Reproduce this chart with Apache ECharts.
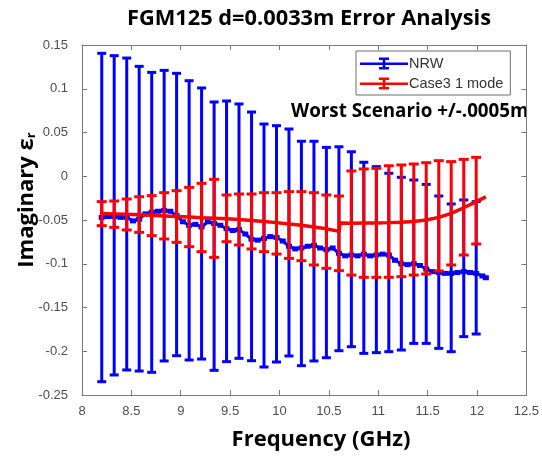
<!DOCTYPE html>
<html>
<head>
<meta charset="utf-8">
<script src="https://cdn.jsdelivr.net/npm/echarts@6/dist/echarts.min.js"></script>
<style>html,body{margin:0;padding:0;background:#fff}#c{width:542px;height:458px}</style>
</head>
<body>
<div id="c"></div>
<script>
// Error-bar positions (GHz)
const barFreq = [8.200,8.326,8.453,8.579,8.706,8.832,8.958,9.085,9.211,9.338,9.464,9.590,9.717,9.843,9.970,10.096,10.222,10.349,10.475,10.602,10.728,10.854,10.981,11.107,11.234,11.360,11.486,11.613,11.739,11.866,11.992];
// NRW error bar limits
const nrwHigh = [0.1405,0.1378,0.1351,0.1256,0.1187,0.121,0.1176,0.1092,0.1009,0.0849,0.086,0.0826,0.0734,0.0597,0.0578,0.054,0.040,0.040,0.033,0.0337,0.028,0.016,0.011,0.0034,-0.0012,-0.0043,-0.0093,-0.0226,-0.0317,-0.0271,-0.029];
const nrwLow = [-0.2348,-0.2271,-0.2214,-0.2226,-0.2241,-0.2111,-0.2051,-0.21,-0.2089,-0.2218,-0.2119,-0.2081,-0.2108,-0.218,-0.2123,-0.2054,-0.2165,-0.2111,-0.2074,-0.1994,-0.1948,-0.2024,-0.2016,-0.2005,-0.1986,-0.191,-0.191,-0.1967,-0.2005,-0.1833,-0.1803];
// NRW measured values
const nrwFreq = [8.200,8.263,8.326,8.390,8.453,8.516,8.579,8.642,8.706,8.769,8.832,8.895,8.958,9.022,9.085,9.148,9.211,9.274,9.338,9.401,9.464,9.527,9.590,9.654,9.717,9.780,9.843,9.906,9.970,10.033,10.096,10.159,10.222,10.286,10.349,10.412,10.475,10.538,10.602,10.665,10.728,10.791,10.854,10.918,10.981,11.044,11.107,11.170,11.234,11.297,11.360,11.423,11.486,11.550,11.613,11.676,11.739,11.802,11.866,11.929,11.992,12.055,12.090];
const nrwVal = [-0.047,-0.046,-0.046,-0.047,-0.047,-0.051,-0.049,-0.043,-0.041,-0.040,-0.039,-0.040,-0.045,-0.052,-0.056,-0.055,-0.058,-0.052,-0.054,-0.056,-0.060,-0.062,-0.061,-0.066,-0.072,-0.073,-0.071,-0.069,-0.070,-0.074,-0.080,-0.083,-0.082,-0.080,-0.079,-0.082,-0.084,-0.082,-0.088,-0.091,-0.090,-0.091,-0.089,-0.091,-0.090,-0.089,-0.090,-0.096,-0.100,-0.101,-0.100,-0.102,-0.106,-0.109,-0.110,-0.111,-0.111,-0.110,-0.109,-0.110,-0.111,-0.114,-0.116];
// Case3 1 mode line
const caseLineFreq = [8.200,8.326,8.453,8.579,8.706,8.832,8.958,9.085,9.211,9.338,9.464,9.590,9.717,9.843,9.970,10.096,10.222,10.349,10.475,10.602,10.615,10.728,10.854,10.981,11.107,11.234,11.360,11.486,11.613,11.739,11.866,11.992,12.090];
const caseLineVal = [-0.0425,-0.043,-0.0435,-0.044,-0.0447,-0.0453,-0.046,-0.0467,-0.0474,-0.048,-0.0487,-0.0495,-0.0505,-0.0518,-0.053,-0.0545,-0.056,-0.058,-0.060,-0.063,-0.0535,-0.0537,-0.0535,-0.0533,-0.053,-0.0525,-0.0518,-0.050,-0.047,-0.0425,-0.036,-0.029,-0.0235];
// Case3 error bar limits
const caseHigh = [-0.029,-0.0283,-0.026,-0.0234,-0.0222,-0.0188,-0.0165,-0.0127,-0.0081,-0.0035,-0.0214,-0.0203,-0.0203,-0.0188,-0.0188,-0.0176,-0.0176,-0.0188,-0.0214,-0.0226,0.006,0.0083,0.009,0.012,0.0129,0.014,0.0155,0.0178,0.0167,0.0193,0.0216];
const caseLow = [-0.0565,-0.0584,-0.0614,-0.0641,-0.0679,-0.0717,-0.0755,-0.0805,-0.0862,-0.0927,-0.0748,-0.0786,-0.0831,-0.0862,-0.0889,-0.0939,-0.0965,-0.1014,-0.1052,-0.1079,-0.1129,-0.1155,-0.1155,-0.1155,-0.1148,-0.1129,-0.1117,-0.1083,-0.1014,-0.09,-0.0774];

const BLUE = '#0000ff', RED = '#ff0000';
function errRender(color, capHalf, lw) {
  return function (params, api) {
    const x = api.value(0), lo = api.value(1), hi = api.value(2);
    const p1 = api.coord([x, hi]), p2 = api.coord([x, lo]);
    const st = {stroke: color, lineWidth: lw};
    return {type: 'group', children: [
      {type: 'line', shape: {x1: p1[0], y1: p1[1], x2: p2[0], y2: p2[1]}, style: st},
      {type: 'line', shape: {x1: p1[0] - capHalf, y1: p1[1], x2: p1[0] + capHalf, y2: p1[1]}, style: st},
      {type: 'line', shape: {x1: p2[0] - capHalf, y1: p2[1], x2: p2[0] + capHalf, y2: p2[1]}, style: st}
    ]};
  };
}
const fmt = v => String(Math.round(v * 100) / 100);
const axisCommon = {
  axisLine: {show: true, onZero: false, lineStyle: {color: '#7a7a7a', width: 1}},
  axisTick: {show: true, inside: true, length: 5, lineStyle: {color: '#7a7a7a'}},
  splitLine: {show: false}
};
const ICON = 'path://M0,5h48v2.6h-48z M22.7,0.6h2.6v11h-2.6z M19,0h10v2.4h-10z M19,9.6h10v2.4h-10z';
const BOLD = {fontFamily: 'Open Sans', fontWeight: 'bold'};

const chart = echarts.init(document.getElementById('c'), null, {renderer: 'canvas'});
chart.setOption({
  animation: false,
  backgroundColor: '#fff',
  title: {text: 'FGM125 d=0.0033m Error Analysis', left: 304, textAlign: 'center', top: 3,
    textStyle: Object.assign({fontSize: 21.8, color: '#000'}, BOLD)},
  grid: {left: 82, right: 14, top: 45, bottom: 63},
  legend: {
    orient: 'vertical', left: 356, top: 51, padding: [5, 7, 4, 4], itemGap: 5,
    itemWidth: 48, itemHeight: 12, backgroundColor: '#fff', borderColor: '#6e6e6e', borderWidth: 1, borderRadius: 0,
    textStyle: {fontFamily: 'Liberation Sans', fontSize: 14.5, color: '#333', padding: [0, 0, 0, -4]},
    data: [{name: 'NRW', icon: ICON, itemStyle: {color: BLUE}}, {name: 'Case3 1 mode', icon: ICON, itemStyle: {color: RED}}]
  },
  xAxis: [
    Object.assign({type: 'value', min: 8, max: 12.5, interval: 0.5, position: 'bottom',
      axisLabel: {formatter: fmt, fontFamily: 'Liberation Sans', fontSize: 13, color: '#4d4d4d', margin: 10}}, axisCommon),
    Object.assign({type: 'value', min: 8, max: 12.5, interval: 0.5, position: 'top', axisLabel: {show: false}}, axisCommon)
  ],
  yAxis: [
    Object.assign({type: 'value', min: -0.25, max: 0.15, interval: 0.05, position: 'left',
      axisLabel: {formatter: fmt, fontFamily: 'Liberation Sans', fontSize: 13, color: '#4d4d4d', margin: 14}}, axisCommon),
    Object.assign({type: 'value', min: -0.25, max: 0.15, interval: 0.05, position: 'right', axisLabel: {show: false}}, axisCommon)
  ],
  graphic: [
    {type: 'text', x: 321, y: 440,
      style: Object.assign({text: 'Frequency (GHz)', fontSize: 22, fill: '#000', align: 'center', verticalAlign: 'middle'}, BOLD)},
    {type: 'text', x: 27, y: 200, rotation: Math.PI / 2,
      style: {text: '{a|Imaginary ε}{b|r}', align: 'center', verticalAlign: 'middle',
        rich: {a: Object.assign({fontSize: 22, fill: '#000'}, BOLD),
               b: Object.assign({fontSize: 13, fill: '#000', verticalAlign: 'bottom', padding: [9, 0, 0, 0]}, BOLD)}}},
    {type: 'text', x: 291, y: 112,
      style: Object.assign({text: 'Worst Scenario +/-.0005m', fontSize: 18.8, fill: '#000', align: 'left', verticalAlign: 'middle'}, BOLD)}
  ],
  series: [
    {name: 'NRW', type: 'custom', renderItem: errRender(BLUE, 4.5, 3), itemStyle: {color: BLUE},
      encode: {x: 0, y: [1, 2]}, data: barFreq.map((f, i) => [f, nrwLow[i], nrwHigh[i]]), z: 2},
    {name: 'NRW', type: 'line', data: nrwFreq.map((f, i) => [f, nrwVal[i]]), color: BLUE,
      lineStyle: {color: BLUE, width: 3}, symbol: 'rect', symbolSize: [6, 5], showSymbol: true,
      itemStyle: {color: BLUE}, z: 3},
    {name: 'Case3 1 mode', type: 'line', data: caseLineFreq.map((f, i) => [f, caseLineVal[i]]), color: RED,
      lineStyle: {color: RED, width: 3.5}, symbol: 'none', z: 4},
    {name: 'Case3 1 mode', type: 'custom', renderItem: errRender(RED, 5, 3), itemStyle: {color: RED},
      encode: {x: 0, y: [1, 2]}, data: barFreq.map((f, i) => [f, caseLow[i], caseHigh[i]]), z: 5}
  ]
});
</script>
</body>
</html>
